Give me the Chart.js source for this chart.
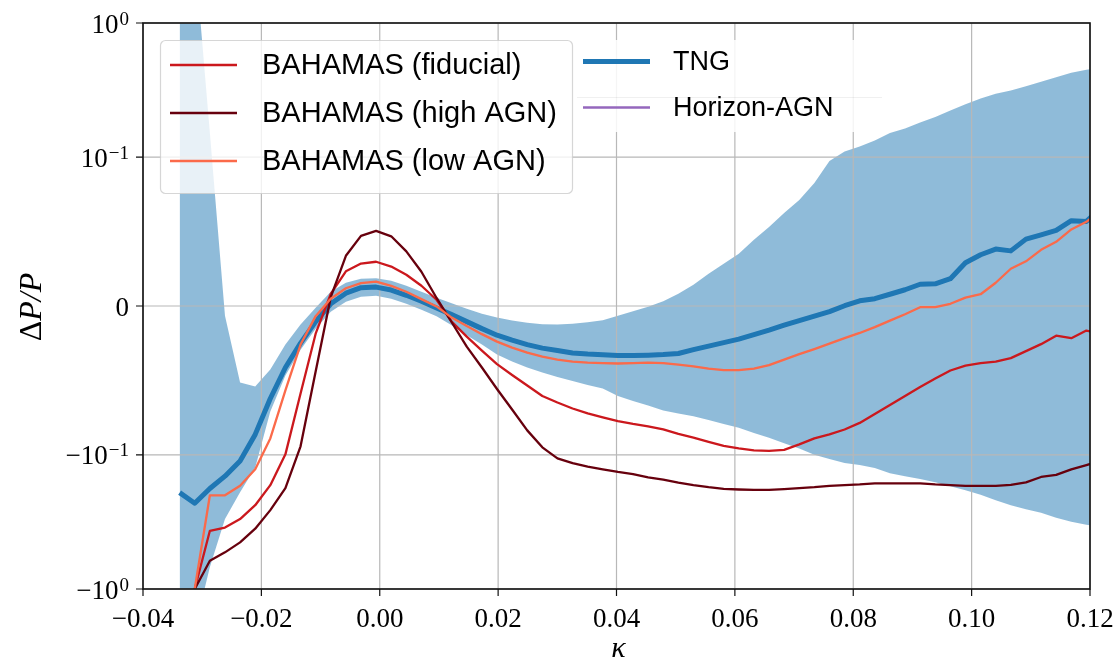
<!DOCTYPE html>
<html>
<head>
<meta charset="utf-8">
<script src="https://cdn.jsdelivr.net/npm/chart.js@4.4.0/dist/chart.umd.min.js"></script>
<style>
  html, body { margin: 0; padding: 0; background: #fff; }
</style>
</head>
<body>
<canvas id="chart" width="1118" height="660"></canvas>
<script>
// kappa bin centres
const kappa = [-0.03381, -0.03126, -0.02870, -0.02615, -0.02360, -0.02104, -0.01849, -0.01594, -0.01338, -0.01083,
  -0.00828, -0.00572, -0.00317, -0.00062, 0.00194, 0.00449, 0.00704, 0.00960, 0.01215, 0.01470,
  0.01726, 0.01981, 0.02236, 0.02492, 0.02747, 0.03002, 0.03258, 0.03513, 0.03768, 0.04024,
  0.04279, 0.04534, 0.04790, 0.05045, 0.05300, 0.05556, 0.05811, 0.06066, 0.06322, 0.06577,
  0.06832, 0.07088, 0.07343, 0.07598, 0.07854, 0.08109, 0.08364, 0.08620, 0.08875, 0.09130,
  0.09386, 0.09641, 0.09896, 0.10152, 0.10407, 0.10662, 0.10918, 0.11173, 0.11428, 0.11684,
  0.11939, 0.12194];

// delta P / P
const tng = [-0.191, -0.229, -0.178, -0.144, -0.111, -0.0862, -0.0621, -0.0413, -0.0249, -0.0105,
  0.0015, 0.0086, 0.0123, 0.0127, 0.0107, 0.0072, 0.0032, -0.0013, -0.0058, -0.0105,
  -0.0152, -0.0196, -0.0229, -0.0259, -0.0283, -0.0299, -0.0315, -0.0323, -0.0328, -0.0333,
  -0.0333, -0.0330, -0.0326, -0.0319, -0.0293, -0.0269, -0.0246, -0.0222, -0.0192, -0.0162,
  -0.0129, -0.0098, -0.0068, -0.0038, 0.0002, 0.0035, 0.0049, 0.0079, 0.0109, 0.0146,
  0.0149, 0.0183, 0.0290, 0.0344, 0.0382, 0.0370, 0.0449, 0.0478, 0.0508, 0.0573,
  0.0568, 0.0658];
const tngHigh = [10, 3.3, 0.151, -0.0065, -0.0514, -0.0541, -0.0427, -0.0259, -0.0125, -0.0011,
  0.0096, 0.0156, 0.0183, 0.0186, 0.0169, 0.0136, 0.0096, 0.0056, 0.0019, -0.0018,
  -0.0052, -0.0078, -0.0098, -0.0112, -0.0122, -0.0125, -0.0119, -0.0109, -0.0095, -0.0065,
  -0.0035, -0.0005, 0.0032, 0.0082, 0.0143, 0.0216, 0.0283, 0.0350, 0.0444, 0.0531,
  0.0625, 0.0712, 0.0826, 0.0973, 0.110, 0.120, 0.133, 0.151, 0.163, 0.181,
  0.199, 0.222, 0.248, 0.273, 0.297, 0.313, 0.338, 0.365, 0.394, 0.425,
  0.448, 0.467];
const tngLow = [-3, -2, -0.686, -0.301, -0.190, -0.124, -0.0708, -0.0467, -0.0293, -0.0152,
  -0.0038, 0.0029, 0.0062, 0.0069, 0.0049, 0.0015, -0.0025, -0.0068, -0.0129, -0.0196,
  -0.0259, -0.0326, -0.0373, -0.0413, -0.0447, -0.0477, -0.0504, -0.0530, -0.0554, -0.0604,
  -0.0638, -0.0668, -0.0701, -0.0721, -0.0741, -0.0765, -0.0792, -0.0818, -0.0852, -0.0885,
  -0.0922, -0.0956, -0.0999, -0.107, -0.115, -0.119, -0.125, -0.137, -0.144, -0.151,
  -0.160, -0.171, -0.183, -0.198, -0.218, -0.237, -0.254, -0.270, -0.294, -0.315,
  -0.331, -0.346];
const bahamasFid = [null, -1, -0.368, -0.348, -0.301, -0.237, -0.168, -0.0996, -0.0587, -0.0186,
  0.0082, 0.0233, 0.0285, 0.0297, 0.0265, 0.0210, 0.0136, 0.0042, -0.0105, -0.0206,
  -0.0299, -0.0390, -0.0463, -0.0534, -0.0604, -0.0648, -0.0688, -0.0721, -0.0748, -0.0773,
  -0.0792, -0.0808, -0.0829, -0.0859, -0.0884, -0.0912, -0.0939, -0.0956, -0.0969, -0.0973,
  -0.0966, -0.0929, -0.0889, -0.0862, -0.0829, -0.0785, -0.0725, -0.0664, -0.0604, -0.0544,
  -0.0487, -0.0433, -0.0400, -0.0383, -0.0373, -0.0350, -0.0303, -0.0256, -0.0199, -0.0216,
  -0.0165, -0.0186];
const bahamasHigh = [null, -1, -0.616, -0.533, -0.449, -0.355, -0.258, -0.177, -0.0942, -0.0440,
  0.0059, 0.0337, 0.0471, 0.0504, 0.0468, 0.0367, 0.0230, 0.0054, -0.0109, -0.0273,
  -0.0413, -0.0557, -0.0695, -0.0835, -0.0949, -0.106, -0.115, -0.122, -0.128, -0.134,
  -0.139, -0.147, -0.153, -0.161, -0.168, -0.174, -0.179, -0.181, -0.182, -0.182,
  -0.180, -0.177, -0.174, -0.170, -0.168, -0.166, -0.163, -0.163, -0.163, -0.163,
  -0.166, -0.168, -0.170, -0.170, -0.170, -0.167, -0.160, -0.146, -0.141, -0.128,
  -0.119, -0.110];
const bahamasLow = [null, -1, -0.200, -0.200, -0.170, -0.128, -0.0889, -0.0567, -0.0259, -0.0068,
  0.0049, 0.0119, 0.0154, 0.0163, 0.0135, 0.0096, 0.0046, -0.0003, -0.0078, -0.0135,
  -0.0189, -0.0239, -0.0279, -0.0313, -0.0340, -0.0360, -0.0373, -0.0380, -0.0383, -0.0386,
  -0.0383, -0.0380, -0.0383, -0.0393, -0.0405, -0.0420, -0.0430, -0.0430, -0.0420, -0.0397,
  -0.0360, -0.0323, -0.0289, -0.0253, -0.0216, -0.0181, -0.0142, -0.0098, -0.0055, -0.0008,
  -0.0007, 0.0015, 0.0056, 0.0079, 0.0156, 0.0250, 0.0300, 0.0377, 0.0431, 0.0514,
  0.0565, 0.0645];
const horizonAgn = []; // only shows up in the legend

const xTicks = [-0.04, -0.02, 0, 0.02, 0.04, 0.06, 0.08, 0.10, 0.12];
const yTicks = [-1, -0.1, 0, 0.1, 1];
const yTickLabels = [['−10', '0'], ['−10', '−1'], ['0', ''], ['10', '−1'], ['10', '0']];

// symlog axis, linthresh 0.1, linscale 1 (same as matplotlib)
const LINTHRESH = 0.1;
const LINSCALE = 1 / (1 - 1 / 10);
function symlog(v) {
    if (v === null) return null;
    const a = Math.abs(v);
    const t = a <= LINTHRESH ? LINSCALE * a / LINTHRESH : LINSCALE + Math.log10(a / LINTHRESH);
    return v < 0 ? -t : t;
}
const yMax = symlog(1);

function toPoints(vals) {
    return vals.map((v, i) => ({x: kappa[i], y: symlog(v)}));
}

const SERIF = '"Liberation Serif", "DejaVu Serif", serif';
const SANS = '"Liberation Sans", "DejaVu Sans", sans-serif';

function drawLegendRows(ctx, rows, x0, x1, xText, fontSize) {
    rows.forEach(r => {
        const ds = r.ds;
        ctx.strokeStyle = ds.borderColor;
        ctx.lineWidth = ds.borderWidth;
        ctx.beginPath();
        ctx.moveTo(x0, r.y);
        ctx.lineTo(x1, r.y);
        ctx.stroke();
        ctx.fillStyle = '#000';
        ctx.font = fontSize + 'px ' + SANS;
        ctx.textAlign = 'left';
        ctx.textBaseline = 'middle';
        ctx.fillText(ds.label, xText, r.y + 1);
    });
}

function roundRect(ctx, x, y, w, h, r) {
    ctx.beginPath();
    ctx.moveTo(x + r, y);
    ctx.arcTo(x + w, y, x + w, y + h, r);
    ctx.arcTo(x + w, y + h, x, y + h, r);
    ctx.arcTo(x, y + h, x, y, r);
    ctx.arcTo(x, y, x + w, y, r);
    ctx.closePath();
}

const frame = {
    id: 'frame',
    // matplotlib puts the grid above the shaded band but under the lines
    afterDatasetDraw(chart, args) {
        if (chart.data.datasets[args.index].label !== 'TNG range') return;
        const {ctx, chartArea: a, scales: {x, y}} = chart;
        ctx.save();
        ctx.strokeStyle = '#b8b8b8';
        ctx.lineWidth = 1.2;
        ctx.beginPath();
        xTicks.forEach(v => {
            const px = x.getPixelForValue(v);
            ctx.moveTo(px, a.top);
            ctx.lineTo(px, a.bottom);
        });
        yTicks.forEach(v => {
            const py = y.getPixelForValue(symlog(v));
            ctx.moveTo(a.left, py);
            ctx.lineTo(a.right, py);
        });
        ctx.stroke();
        ctx.restore();
    },
    afterDraw(chart) {
        const {ctx, chartArea: a, scales: {x, y}} = chart;
        const byLabel = l => chart.data.datasets.find(d => d.label === l);
        ctx.save();

        // spines
        ctx.strokeStyle = '#111';
        ctx.lineWidth = 1.6;
        ctx.strokeRect(a.left, a.top, a.right - a.left, a.bottom - a.top);

        // tick marks
        ctx.lineWidth = 1.2;
        ctx.beginPath();
        xTicks.forEach(v => {
            const px = x.getPixelForValue(v);
            ctx.moveTo(px, a.bottom);
            ctx.lineTo(px, a.bottom + 7);
        });
        yTicks.forEach(v => {
            const py = y.getPixelForValue(symlog(v));
            ctx.moveTo(a.left - 7, py);
            ctx.lineTo(a.left, py);
        });
        ctx.stroke();

        // y tick labels with superscripts
        ctx.fillStyle = '#000';
        ctx.textBaseline = 'alphabetic';
        yTicks.forEach((v, i) => {
            const py = y.getPixelForValue(symlog(v));
            const [base, exp] = yTickLabels[i];
            const right = 129;
            ctx.font = '19px ' + SERIF;
            const ew = exp ? ctx.measureText(exp).width : 0;
            if (exp) {
                ctx.textAlign = 'left';
                ctx.fillText(exp, right - ew, py + 1.5);
            }
            ctx.font = '27px ' + SERIF;
            ctx.textAlign = 'right';
            ctx.fillText(base, right - ew - (exp ? 1 : 0), py + 9.5);
        });

        // axis titles
        ctx.font = 'italic 30px ' + SERIF;
        ctx.textAlign = 'center';
        ctx.fillText('κ', (a.left + a.right) / 2 + 2, 657);

        ctx.save();
        ctx.translate(41, 307);
        ctx.rotate(-Math.PI / 2);
        ctx.font = '32px ' + SERIF;
        const w1 = ctx.measureText('Δ').width;
        ctx.font = 'italic 32px ' + SERIF;
        const w2 = ctx.measureText('P/P').width;
        ctx.textAlign = 'left';
        ctx.font = '32px ' + SERIF;
        ctx.fillText('Δ', -(w1 + w2) / 2, 0);
        ctx.font = 'italic 32px ' + SERIF;
        ctx.fillText('P/P', -(w1 + w2) / 2 + w1, 0);
        ctx.restore();

        // left legend (BAHAMAS runs)
        roundRect(ctx, 160.5, 40.5, 412, 153, 5);
        ctx.fillStyle = 'rgba(255,255,255,0.8)';
        ctx.fill();
        ctx.strokeStyle = 'rgba(204,204,204,0.8)';
        ctx.lineWidth = 1.2;
        ctx.stroke();
        drawLegendRows(ctx, [
            {ds: byLabel('BAHAMAS (fiducial)'), y: 65},
            {ds: byLabel('BAHAMAS (high AGN)'), y: 113},
            {ds: byLabel('BAHAMAS (low AGN)'), y: 161}
        ], 170, 237, 262, 29);

        // right legend (TNG, Horizon-AGN)
        ctx.fillStyle = 'rgba(255,255,255,0.85)';
        ctx.fillRect(577, 40, 305, 92);
        ctx.strokeStyle = 'rgba(0,0,0,0.06)';
        ctx.lineWidth = 1;
        ctx.beginPath();
        ctx.moveTo(577, 97.5);
        ctx.lineTo(882, 97.5);
        ctx.stroke();
        drawLegendRows(ctx, [
            {ds: byLabel('TNG'), y: 61.5},
            {ds: byLabel('Horizon-AGN'), y: 107.5}
        ], 583, 650, 673, 27);

        ctx.restore();
    }
};

new Chart(document.getElementById('chart'), {
    type: 'line',
    data: {
        datasets: [
            {label: 'BAHAMAS (fiducial)', data: toPoints(bahamasFid), borderColor: '#cb181d', borderWidth: 2.3, order: 3},
            {label: 'BAHAMAS (high AGN)', data: toPoints(bahamasHigh), borderColor: '#67000d', borderWidth: 2.3, order: 2},
            {label: 'BAHAMAS (low AGN)', data: toPoints(bahamasLow), borderColor: '#fb6a4a', borderWidth: 2.3, order: 1},
            {label: 'TNG', data: toPoints(tng), borderColor: '#1f77b4', borderWidth: 5, order: 4},
            {label: 'Horizon-AGN', data: toPoints(horizonAgn), borderColor: '#9467bd', borderWidth: 2.3, order: 5},
            {label: 'TNG range', data: toPoints(tngHigh), borderWidth: 0, borderColor: 'rgba(0,0,0,0)',
                backgroundColor: 'rgba(31,119,180,0.5)', fill: '+1', order: 10},
            {label: 'TNG range low', data: toPoints(tngLow), borderWidth: 0, borderColor: 'rgba(0,0,0,0)',
                fill: false, order: 11}
        ]
    },
    options: {
        responsive: false,
        animation: false,
        devicePixelRatio: 1,
        events: [],
        layout: {padding: {left: 0, right: 28, top: 23, bottom: 0}},
        elements: {
            point: {radius: 0},
            line: {tension: 0, borderJoinStyle: 'round', fill: false}
        },
        plugins: {
            legend: {display: false},
            tooltip: {enabled: false}
        },
        scales: {
            x: {
                type: 'linear',
                min: -0.04,
                max: 0.12,
                afterBuildTicks: s => { s.ticks = xTicks.map(v => ({value: v})); },
                afterFit: s => { s.height = 71; s.paddingLeft = 0; s.paddingRight = 0; },
                grid: {display: false, drawTicks: true, tickLength: 7},
                border: {display: false},
                ticks: {
                    color: '#000',
                    font: {family: SERIF, size: 27},
                    padding: 8,
                    maxRotation: 0,
                    autoSkip: false,
                    callback: v => (v < -1e-9 ? '−' : '') + Math.abs(v).toFixed(2)
                }
            },
            y: {
                type: 'linear',
                min: -yMax,
                max: yMax,
                afterBuildTicks: s => { s.ticks = yTicks.map(v => ({value: symlog(v)})); },
                afterFit: s => { s.width = 143; s.paddingTop = 0; s.paddingBottom = 0; },
                grid: {display: false},
                border: {display: false},
                ticks: {display: false}
            }
        }
    },
    plugins: [frame]
});
</script>
</body>
</html>
